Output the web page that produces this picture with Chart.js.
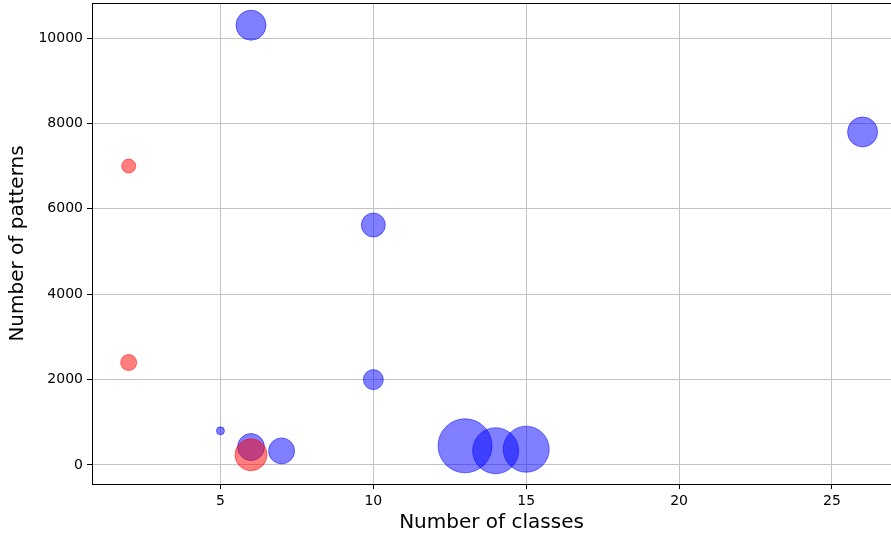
<!DOCTYPE html>
<html>
<head>
<meta charset="utf-8">
<script src="https://cdn.jsdelivr.net/npm/chart.js@4/dist/chart.umd.min.js"></script>
<style>
  html, body { margin: 0; padding: 0; background: #fff; overflow: hidden; }
  #wrap { width: 891px; height: 535px; }
</style>
</head>
<body>
<div id="wrap"><canvas id="myChart" width="891" height="535"></canvas></div>
<script>
// red group
const redClasses = [2, 2, 6];
const redPatterns = [7000, 2400, 240];
const redSizes = [7, 8, 16];

// blue group
const blueClasses = [6, 26, 10, 10, 5, 6, 7, 13, 14, 15];
const bluePatterns = [10300, 7800, 5620, 2000, 800, 420, 330, 450, 335, 370];
const blueSizes = [15, 15, 12, 10, 4, 13.5, 13, 27, 23, 23];

const xTicks = [5, 10, 15, 20, 25];
const yTicks = [0, 2000, 4000, 6000, 8000, 10000];

const toPoints = (xs, ys, rs) => xs.map((x, i) => ({ x: x, y: ys[i], r: rs[i] }));

const ctx = document.getElementById('myChart');
const font = { family: 'DejaVu Sans', size: 14 };
const titleFont = { family: 'DejaVu Sans', size: 20 };
const gridColor = '#c4c4c4';

new Chart(ctx, {
    type: 'bubble',
    data: {
        datasets: [
            {
                label: 'red',
                data: toPoints(redClasses, redPatterns, redSizes),
                backgroundColor: 'rgba(255, 0, 0, 0.5)',
                borderColor: 'rgba(255, 0, 0, 0.5)',
                borderWidth: 1
            },
            {
                label: 'blue',
                data: toPoints(blueClasses, bluePatterns, blueSizes),
                backgroundColor: 'rgba(0, 0, 255, 0.5)',
                borderColor: 'rgba(0, 0, 255, 0.5)',
                borderWidth: 1
            }
        ]
    },
    options: {
        responsive: false,
        animation: false,
        layout: { padding: 0, autoPadding: false },
        plugins: { legend: { display: false }, tooltip: { enabled: false } },
        scales: {
            x: {
                type: 'linear',
                position: 'bottom',
                min: 0.8,
                max: 26.93,
                afterBuildTicks: s => { s.ticks = xTicks.map(v => ({ value: v })); },
                afterFit: s => { s.height = 51; s.paddingLeft = 0; s.paddingRight = 0; },
                grid: { color: gridColor, lineWidth: 1, tickLength: 5, tickColor: '#000' },
                border: { color: '#000', width: 1 },
                ticks: { color: '#000', font: font, padding: 4, callback: v => String(v) },
                title: { display: true, text: 'Number of classes', color: '#000',
                         font: titleFont, padding: { top: 0, bottom: 0 } }
            },
            top: {
                type: 'linear',
                position: 'top',
                min: 0.8,
                max: 26.93,
                afterFit: s => { s.height = 3; s.paddingLeft = 0; s.paddingRight = 0; },
                grid: { display: false },
                border: { color: '#000', width: 1 },
                ticks: { display: false }
            },
            y: {
                type: 'linear',
                min: -445,
                max: 10820,
                afterBuildTicks: s => { s.ticks = yTicks.map(v => ({ value: v })); },
                afterFit: s => { s.width = 92; s.paddingTop = 0; s.paddingBottom = 0; },
                grid: { color: gridColor, lineWidth: 1, tickLength: 5, tickColor: '#000' },
                border: { color: '#000', width: 1 },
                ticks: { color: '#000', font: font, padding: 4, callback: v => String(v) },
                title: { display: true, text: 'Number of patterns', color: '#000',
                         font: titleFont, padding: { top: 6, bottom: 4 } }
            }
        }
    }
});
</script>
</body>
</html>
